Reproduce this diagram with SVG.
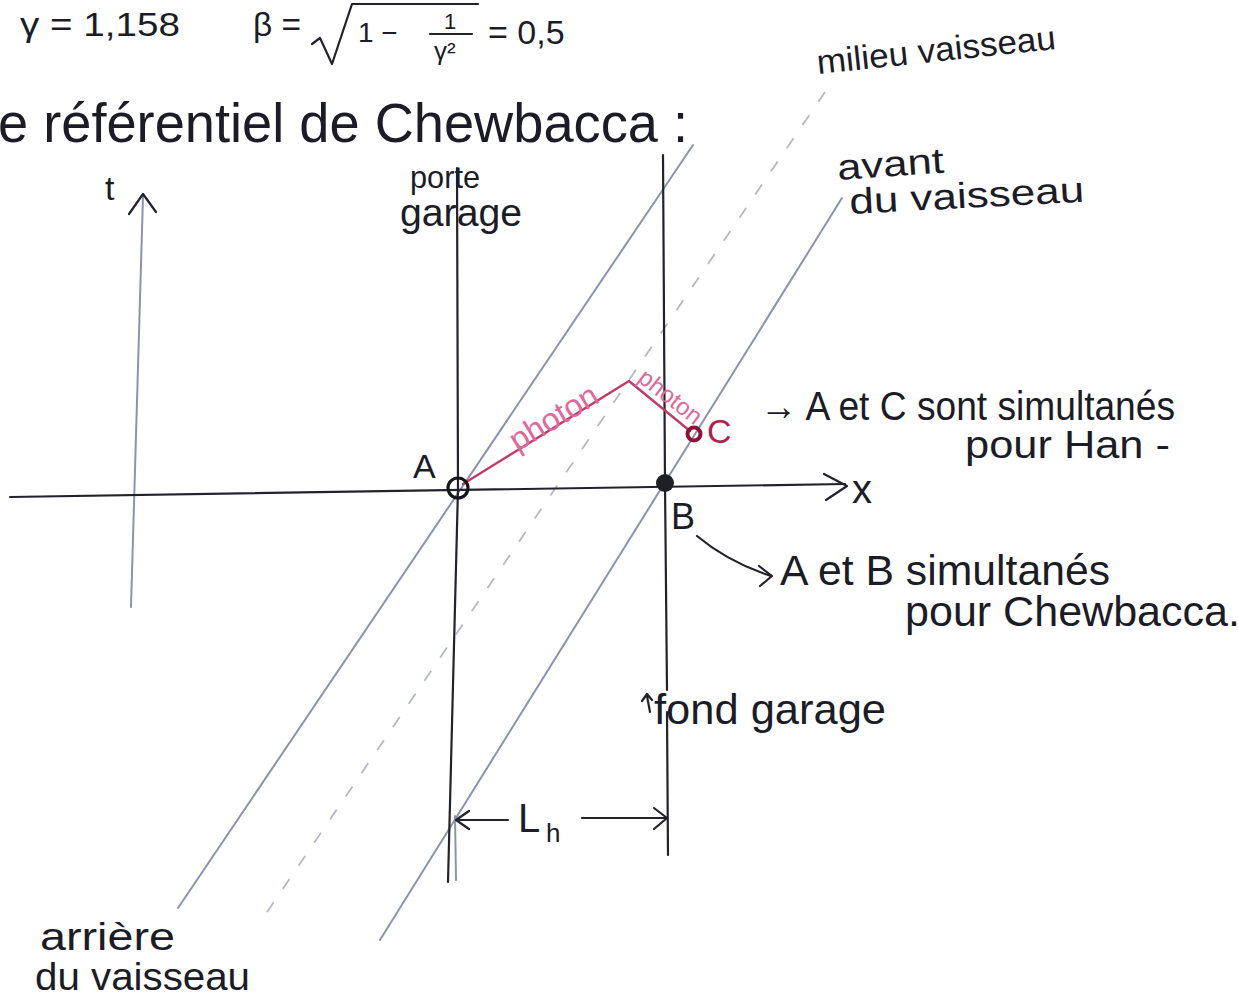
<svg xmlns="http://www.w3.org/2000/svg" width="1239" height="1001" viewBox="0 0 1239 1001">
<style>
.t{font-family:"Liberation Sans","DejaVu Sans",sans-serif;fill:#1c1c26}
.ink{fill:none;stroke:#22222c;stroke-width:2.2;stroke-linecap:round;stroke-linejoin:round}
.blue{fill:none;stroke:#8c94ab;stroke-width:2;stroke-linecap:round}
.dash{fill:none;stroke:#b4b8c4;stroke-width:1.8;stroke-dasharray:12 16}
.ph{fill:none;stroke:#c23a66;stroke-width:2.4;stroke-linecap:round;stroke-linejoin:round}
.pt{font-family:"Liberation Sans","DejaVu Sans",sans-serif;fill:#e0689a}
</style>
<rect width="1239" height="1001" fill="#ffffff"/>

<g id="formula">
<text class="t" x="20" y="36" font-size="34" textLength="160" lengthAdjust="spacingAndGlyphs">γ = 1,158</text>
<text class="t" x="253" y="36" font-size="34" textLength="48" lengthAdjust="spacingAndGlyphs">β =</text>
<path class="ink" d="M312,44 L320,38 L332,64 L352,4 L478,4"/>
<text class="t" x="358" y="42" font-size="28">1 −</text>
<path class="ink" d="M430,34 L472,34" stroke-width="1.8"/>
<text class="t" x="444" y="29" font-size="22">1</text>
<text class="t" x="434" y="60" font-size="26">γ²</text>
<text class="t" x="488" y="44" font-size="34">= 0,5</text>
</g>

<g id="title">
<text class="t" x="-2" y="142" font-size="56" textLength="690" lengthAdjust="spacingAndGlyphs">e référentiel de Chewbacca :</text>
</g>

<g id="connectors">
<path class="dash" d="M825,92 L265,915"/>
<path class="blue" d="M693,145 L178,908"/>
<path class="blue" d="M842,198 L380,940"/>
<path class="blue" d="M131,607 L143,196"/>
<path class="ink" d="M129,214 L143,194 L156,212"/>
<path class="ink" d="M10,497 L845,484"/>
<path class="ink" d="M824,474 L847,486 L826,500"/>
<path class="ink" d="M457,168 L458,488 L448,882"/>
<path class="blue" d="M455,816 L456,880" stroke="#9bb0d8"/>
<path class="ink" d="M663,155 L665,483 L667,690 M667,712 L668,855"/>
<path class="ink" d="M650,712 L647,696 M642,701 L647,694 L652,700" stroke-width="1.4"/>
<path class="ink" d="M456,820 L508,820 M469,811 L456,820 L469,829"/>
<path class="ink" d="M582,818 L666,818 M654,808 L667,818 L654,829"/>
<path class="ink" d="M697,536 Q728,562 771,576 M759,566 L772,576 L760,586" stroke-width="1.8"/>
<path class="ph" d="M463,484 L629,381 L690,431"/>
</g>

<g id="axis-labels">
<text class="t" x="105" y="200" font-size="34">t</text>
<text class="t" x="852" y="503" font-size="40">x</text>
</g>

<g id="node-A">
<circle cx="458" cy="488" r="10" fill="none" stroke="#15151c" stroke-width="3.2"/>
<text class="t" x="413" y="478" font-size="34">A</text>
</g>
<g id="node-B">
<circle cx="665" cy="483" r="9" fill="#1f1f26"/>
<text class="t" x="671" y="529" font-size="36">B</text>
</g>
<g id="node-C">
<circle cx="694" cy="434" r="6.5" fill="none" stroke="#8e1038" stroke-width="4"/>
<text x="707" y="443" font-size="34" font-family="Liberation Sans, sans-serif" fill="#b0204e">C</text>
</g>

<g id="photon-labels">
<text class="pt" x="555" y="428" font-size="32" text-anchor="middle" transform="rotate(-31 555 420)">photon</text>
<text class="pt" x="668" y="404" font-size="24" text-anchor="middle" transform="rotate(38 668 400)">photon</text>
</g>

<g id="label-milieu">
<text class="t" x="818" y="74" font-size="34" fill="#4a4a55" textLength="240" lengthAdjust="spacingAndGlyphs" transform="rotate(-6 818 74)">milieu vaisseau</text>
</g>
<g id="label-avant">
<text class="t" x="838" y="180" font-size="36" textLength="107" lengthAdjust="spacingAndGlyphs" transform="rotate(-4 838 180)">avant</text>
<text class="t" x="850" y="214" font-size="36" textLength="235" lengthAdjust="spacingAndGlyphs" transform="rotate(-3 850 214)">du vaisseau</text>
</g>
<g id="label-porte">
<text class="t" x="410" y="188" font-size="32" textLength="70" lengthAdjust="spacingAndGlyphs">porte</text>
<text class="t" x="400" y="226" font-size="38" textLength="122" lengthAdjust="spacingAndGlyphs">garage</text>
</g>
<g id="label-fond">
<text class="t" x="654" y="724" font-size="42" textLength="232" lengthAdjust="spacingAndGlyphs">fond garage</text>
</g>
<g id="label-arriere">
<text class="t" x="40" y="950" font-size="38" textLength="135" lengthAdjust="spacingAndGlyphs">arrière</text>
<text class="t" x="35" y="990" font-size="38" textLength="215" lengthAdjust="spacingAndGlyphs">du vaisseau</text>
</g>
<g id="label-Lh">
<text class="t" x="518" y="832" font-size="40">L</text>
<text class="t" x="546" y="842" font-size="26">h</text>
</g>
<g id="note-AC">
<text class="t" x="760" y="420" font-size="40" textLength="415" lengthAdjust="spacingAndGlyphs">→ A et C sont simultanés</text>
<text class="t" x="965" y="458" font-size="38" textLength="205" lengthAdjust="spacingAndGlyphs">pour Han -</text>
</g>
<g id="note-AB">
<text class="t" x="780" y="585" font-size="42" textLength="330" lengthAdjust="spacingAndGlyphs">A et B simultanés</text>
<text class="t" x="905" y="626" font-size="42" textLength="335" lengthAdjust="spacingAndGlyphs">pour Chewbacca.</text>
</g>
</svg>
